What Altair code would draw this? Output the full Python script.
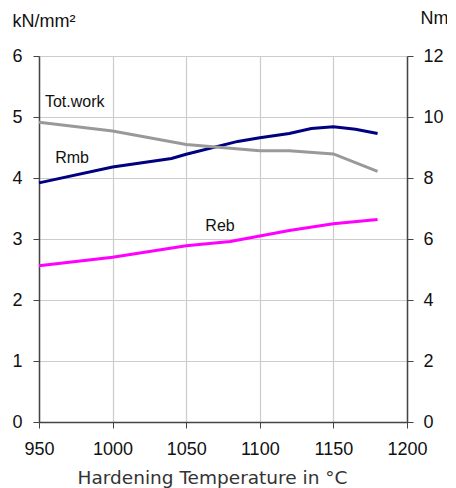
import altair as alt
import pandas as pd

temp_rmb = [950, 1000, 1040, 1050, 1085, 1100, 1120, 1135, 1150, 1165, 1180]
rmb = [3.92, 4.18, 4.32, 4.39, 4.60, 4.66, 4.73, 4.81, 4.84, 4.80, 4.73]
temp_reb = [950, 1000, 1050, 1080, 1100, 1120, 1150, 1180]
reb = [2.56, 2.70, 2.89, 2.96, 3.05, 3.14, 3.25, 3.32]
temp_tot = [950, 1000, 1050, 1100, 1120, 1150, 1180]
tot = [9.83, 9.54, 9.10, 8.89, 8.89, 8.79, 8.22]

label_text = ["Tot.work", "Rmb", "Reb"]
label_x = [954, 961, 1063]
label_y = [5.25, 4.33, 3.21]

df_rmb = pd.DataFrame({"t": temp_rmb, "v": rmb})
df_reb = pd.DataFrame({"t": temp_reb, "v": reb})
df_tot = pd.DataFrame({"t": temp_tot, "v": tot})
df_lab = pd.DataFrame({"t": label_x, "v": label_y, "s": label_text})

xscale = alt.Scale(domain=[950, 1200], nice=False, zero=False)
xaxis = alt.Axis(values=[950, 1000, 1050, 1100, 1150, 1200], format="d",
                 title="Hardening Temperature in °C", labelFlush=False,
                 titleX=173, titleAlign="center", titleBaseline="middle", titleY=55,
                 titleFont="DejaVu Sans", titleFontSize=18.5, titleFontWeight="normal", titleColor="#333333",
                 labelFont="Liberation Sans", labelFontSize=18, labelColor="#111111",
                 labelPadding=12, tickSize=6, tickColor="#444444", domainColor="#444444", domainWidth=1.5,
                 grid=True, gridColor="#cccccc", gridWidth=1.2, domain=True)

yl_scale = alt.Scale(domain=[0, 6], nice=False)
yl_axis = alt.Axis(values=[0, 1, 2, 3, 4, 5, 6], title="kN/mm²", titleAngle=0, titleAlign="left",
                   titleBaseline="middle", titleX=-27, titleY=-35, titleFont="Liberation Sans",
                   titleFontSize=18, titleFontWeight="normal", titleColor="#111111", labelFlush=False,
                   labelFont="Liberation Sans", labelFontSize=18, labelColor="#111111", labelPadding=11,
                   tickSize=6, tickColor="#444444", domainColor="#444444", domainWidth=1.5,
                   grid=True, gridColor="#cccccc", gridWidth=1.2)
yr_scale = alt.Scale(domain=[0, 12], nice=False)
yr_axis = alt.Axis(values=[0, 2, 4, 6, 8, 10, 12], orient="right", title="Nm", titleAngle=0,
                   titleAlign="left", titleBaseline="middle", titleX=13, titleY=-38, labelFlush=False,
                   titleFont="Liberation Sans", titleFontSize=18, titleFontWeight="normal",
                   titleColor="#111111", labelFont="Liberation Sans", labelFontSize=18,
                   labelColor="#111111", labelPadding=10, tickSize=6, tickColor="#444444",
                   domainColor="#444444", domainWidth=1.5, grid=False)

X = alt.X("t:Q", scale=xscale, axis=xaxis)
YL = alt.Y("v:Q", scale=yl_scale, axis=yl_axis)

rmb_line = alt.Chart(df_rmb).mark_line(color="#000080", strokeWidth=3).encode(x=X, y=YL)
reb_line = alt.Chart(df_reb).mark_line(color="#ff00ff", strokeWidth=3).encode(x=X, y=YL)
labels = alt.Chart(df_lab).mark_text(align="left", baseline="middle", font="Liberation Sans",
                                     fontSize=16, color="#111111").encode(x=X, y=YL, text="s:N")
tot_line = alt.Chart(df_tot).mark_line(color="#999999", strokeWidth=3).encode(
    x=X,
    y=alt.Y("v:Q", scale=yr_scale, axis=yr_axis),
)

left = alt.layer(rmb_line, reb_line, labels)
chart = alt.layer(left, tot_line).resolve_scale(y="independent").properties(
    width=368, height=366,
    autosize=alt.AutoSizeParams(type="none"),
    padding={"left": 31, "top": 48, "right": 40, "bottom": 66},
).configure_view(stroke=None)

chart.save("out.html", embed_options={"renderer": "svg", "actions": False})
